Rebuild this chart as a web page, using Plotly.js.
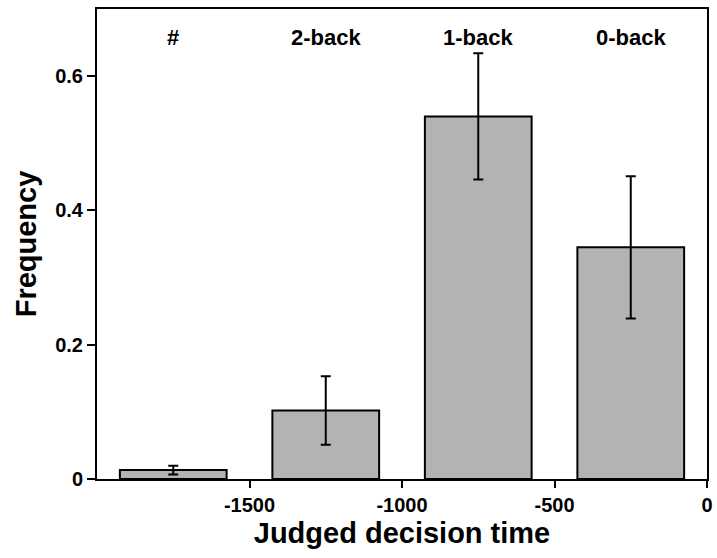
<!DOCTYPE html>
<html>
<head>
<meta charset="utf-8">
<script src="https://cdn.plot.ly/plotly-3.0.1.min.js"></script>
<style>html,body{margin:0;padding:0;background:#fff;}#chart{width:717px;height:558px;}</style>
</head>
<body>
<div id="chart"></div>
<script>
const binCenters = [-1750, -1250, -750, -250];
const frequency = [0.0133, 0.102, 0.540, 0.345];
const errors = [0.0065, 0.051, 0.094, 0.106];
const binLabels = ["#", "2-back", "1-back", "0-back"];
const xTickVals = [-1500, -1000, -500, 0];
const xTickText = ["-1500", "-1000", "-500", "0"];
const yTickVals = [0, 0.2, 0.4, 0.6];
const yTickText = ["0", "0.2", "0.4", "0.6"];

const FONT = "Liberation Sans, Arial, sans-serif";

const trace = {
  type: "bar",
  x: binCenters,
  y: frequency,
  width: 350,
  marker: {color: "#b3b3b3", line: {color: "#000", width: 2}},
  error_y: {type: "data", array: errors, visible: true, color: "#000", thickness: 2, width: 5},
  hoverinfo: "skip"
};

const annotations = binLabels.map((t, i) => ({
  x: binCenters[i], y: 0.94, xref: "x", yref: "paper",
  text: "<b>" + t + "</b>", showarrow: false,
  font: {family: FONT, size: 22, color: "#000"},
  xanchor: "center", yanchor: "middle"
}));

const layout = {
  width: 717, height: 558,
  margin: {l: 97, r: 10, t: 9, b: 79},
  paper_bgcolor: "#fff", plot_bgcolor: "#fff",
  showlegend: false,
  bargap: 0,
  font: {family: FONT, color: "#000"},
  xaxis: {
    range: [-2000, 0],
    tickvals: xTickVals, ticktext: xTickText,
    ticks: "outside", ticklen: 7, tickwidth: 2, tickcolor: "#000",
    showline: true, linewidth: 2, linecolor: "#000", mirror: true,
    showgrid: false, zeroline: false,
    tickfont: {family: FONT, size: 20, color: "#000", weight: "bold"},
    title: {text: "<b>Judged decision time</b>", font: {family: FONT, size: 29, color: "#000"}, standoff: 8}
  },
  yaxis: {
    range: [0, 0.7],
    tickvals: yTickVals, ticktext: yTickText,
    ticks: "outside", ticklen: 8, tickwidth: 2, tickcolor: "#000",
    showline: true, linewidth: 2, linecolor: "#000", mirror: true,
    showgrid: false, zeroline: false,
    tickfont: {family: FONT, size: 20, color: "#000", weight: "bold"},
    title: {text: "<b>Frequency</b>", font: {family: FONT, size: 29, color: "#000"}, standoff: 10}
  },
  annotations: annotations
};

Plotly.newPlot("chart", [trace], layout, {displayModeBar: false, staticPlot: true});
</script>
</body>
</html>
